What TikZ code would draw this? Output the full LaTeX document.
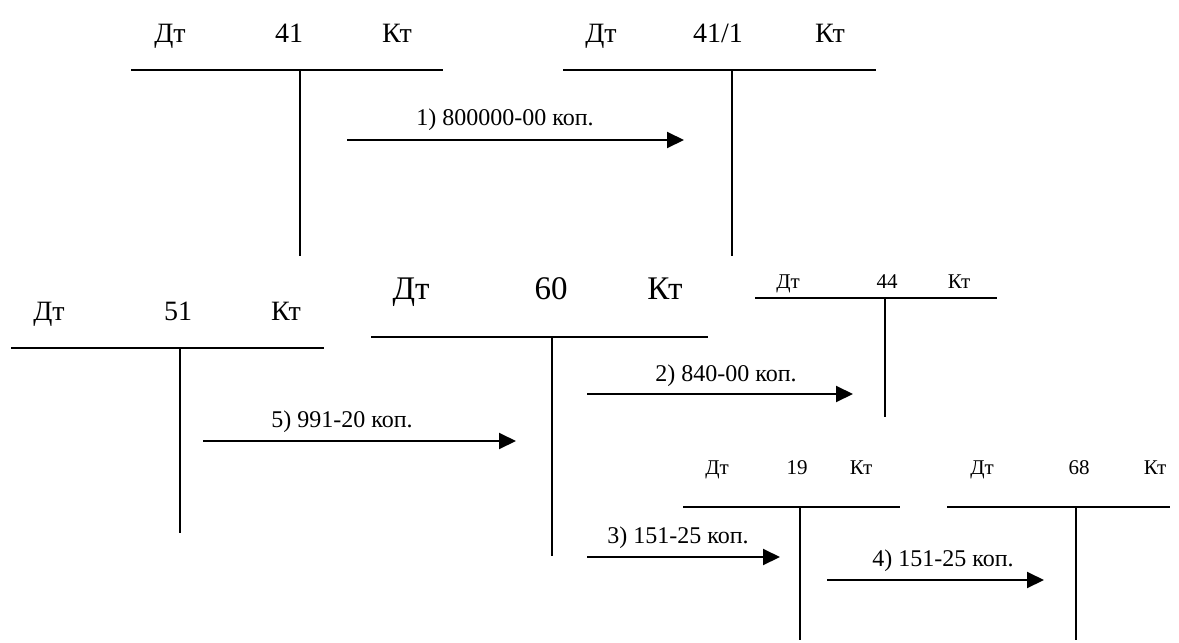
\documentclass[tikz,border=0pt]{standalone}
\usepackage{fontspec}
\setmainfont{Liberation Serif}
\usetikzlibrary{arrows.meta}

\begin{document}
\begin{tikzpicture}[x=1pt,y=-1pt,
  rule/.style={line width=2pt},
  post/.style={line width=2pt,-{Triangle[length=17pt,width=16pt]}},
  hbig/.style={inner sep=0pt,anchor=base,font=\fontsize{28}{30}\selectfont},
  hhuge/.style={inner sep=0pt,anchor=base,font=\fontsize{33}{36}\selectfont},
  hsmall/.style={inner sep=0pt,anchor=base,font=\fontsize{21}{24}\selectfont},
  amount/.style={inner sep=0pt,anchor=base,font=\fontsize{24}{27}\selectfont}]
\useasboundingbox (0,0) rectangle (1179,643);

% --- account 41 ---
\node[hbig] (a41d) at (170,42) {Дт};
\node[hbig] (a41n) at (289,42) {41};
\node[hbig] (a41k) at (397,42) {Кт};
\coordinate (a41l) at (131,70); \coordinate (a41r) at (443,70);
\coordinate (a41t) at (300,70); \coordinate (a41b) at (300,256);
\draw[rule] (a41l) -- (a41r);
\draw[rule] (a41t) -- (a41b);

% --- account 41/1 ---
\node[hbig] (b41d) at (601,42) {Дт};
\node[hbig] (b41n) at (718,42) {41/1};
\node[hbig] (b41k) at (830,42) {Кт};
\coordinate (b41l) at (563,70); \coordinate (b41r) at (876,70);
\coordinate (b41t) at (732,70); \coordinate (b41b) at (732,256);
\draw[rule] (b41l) -- (b41r);
\draw[rule] (b41t) -- (b41b);

% --- account 51 ---
\node[hbig] (a51d) at (49,320) {Дт};
\node[hbig] (a51n) at (178,320) {51};
\node[hbig] (a51k) at (286,320) {Кт};
\coordinate (a51l) at (11,348); \coordinate (a51r) at (324,348);
\coordinate (a51t) at (180,348); \coordinate (a51b) at (180,533);
\draw[rule] (a51l) -- (a51r);
\draw[rule] (a51t) -- (a51b);

% --- account 60 ---
\node[hhuge] (a60d) at (411,299) {Дт};
\node[hhuge] (a60n) at (551,299) {60};
\node[hhuge] (a60k) at (665,299) {Кт};
\coordinate (a60l) at (371,337); \coordinate (a60r) at (708,337);
\coordinate (a60t) at (552,337); \coordinate (a60b) at (552,556);
\draw[rule] (a60l) -- (a60r);
\draw[rule] (a60t) -- (a60b);

% --- account 44 ---
\node[hsmall] (a44d) at (788,288) {Дт};
\node[hsmall] (a44n) at (887,288) {44};
\node[hsmall] (a44k) at (959,288) {Кт};
\coordinate (a44l) at (755,298); \coordinate (a44r) at (997,298);
\coordinate (a44t) at (885,298); \coordinate (a44b) at (885,417);
\draw[rule] (a44l) -- (a44r);
\draw[rule] (a44t) -- (a44b);

% --- account 19 ---
\node[hsmall] (a19d) at (717,474) {Дт};
\node[hsmall] (a19n) at (797,474) {19};
\node[hsmall] (a19k) at (861,474) {Кт};
\coordinate (a19l) at (683,507); \coordinate (a19r) at (900,507);
\coordinate (a19t) at (800,507); \coordinate (a19b) at (800,640);
\draw[rule] (a19l) -- (a19r);
\draw[rule] (a19t) -- (a19b);

% --- account 68 ---
\node[hsmall] (a68d) at (982,474) {Дт};
\node[hsmall] (a68n) at (1079,474) {68};
\node[hsmall] (a68k) at (1155,474) {Кт};
\coordinate (a68l) at (947,507); \coordinate (a68r) at (1170,507);
\coordinate (a68t) at (1076,507); \coordinate (a68b) at (1076,640);
\draw[rule] (a68l) -- (a68r);
\draw[rule] (a68t) -- (a68b);

% --- postings ---
\coordinate (p1s) at (347,140); \coordinate (p1e) at (684,140);
\draw[post] (p1s) -- (p1e);
\node[amount] (p1) at (505,125) {1) 800000-00 коп.};

\coordinate (p2s) at (587,394); \coordinate (p2e) at (853,394);
\draw[post] (p2s) -- (p2e);
\node[amount] (p2) at (726,381) {2) 840-00 коп.};

\coordinate (p3s) at (587,557); \coordinate (p3e) at (780,557);
\draw[post] (p3s) -- (p3e);
\node[amount] (p3) at (678,543) {3) 151-25 коп.};

\coordinate (p4s) at (827,580); \coordinate (p4e) at (1044,580);
\draw[post] (p4s) -- (p4e);
\node[amount] (p4) at (943,566) {4) 151-25 коп.};

\coordinate (p5s) at (203,441); \coordinate (p5e) at (516,441);
\draw[post] (p5s) -- (p5e);
\node[amount] (p5) at (342,427) {5) 991-20 коп.};
\end{tikzpicture}
\end{document}
